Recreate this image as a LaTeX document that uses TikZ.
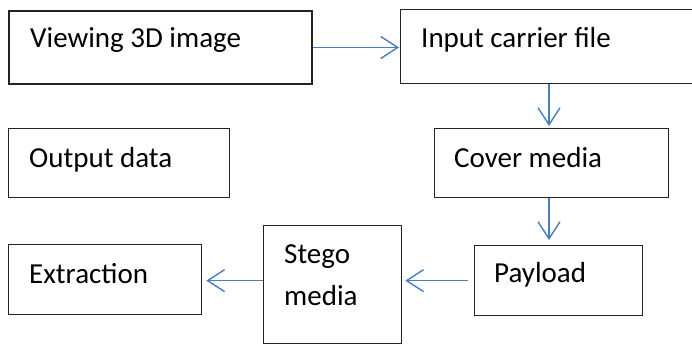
\documentclass[tikz,border=0pt]{standalone}
\usepackage{fontspec}
\setmainfont{Carlito}
\usetikzlibrary{arrows.meta}
\definecolor{arrowblue}{HTML}{4A7EBB}
\definecolor{boxline}{HTML}{222222}
\begin{document}
\begin{tikzpicture}[x=1pt,y=-1pt,
  box/.style={draw=boxline,line width=1.3pt,rectangle,inner sep=0pt,anchor=north west},
  lbl/.style={anchor=base west,inner sep=0pt,font=\fontsize{29}{42}\selectfont},
  flow/.style={draw=arrowblue,line width=1.4pt,-{Straight Barb[length=17pt,width=22pt,line width=1.4pt]}}]
\useasboundingbox (0,0) rectangle (692,345);
% boxes
\node[box,line width=2pt,minimum width=303pt,minimum height=73pt] (view) at (8,10) {};
\node[box,minimum width=296pt,minimum height=74pt] (input) at (400,9) {};
\node[box,minimum width=221pt,minimum height=69pt] (out) at (8,128) {};
\node[box,minimum width=234pt,minimum height=69pt] (cover) at (434,128) {};
\node[box,minimum width=193pt,minimum height=70pt] (extr) at (8,244) {};
\node[box,minimum width=138pt,minimum height=118pt] (stego) at (263,225) {};
\node[box,minimum width=168pt,minimum height=70pt] (pay) at (474,245) {};
% texts
\node[lbl] (tview) at (30,48) {Viewing 3D image};
\node[lbl] (tinput) at (421,48) {Input carrier file};
\node[lbl] (tout) at (29,167) {Output data};
\node[lbl] (tcover) at (454,167) {Cover media};
\node[lbl] (textr) at (29,283) {Extraction};
\node[lbl] (tstego1) at (284,263) {Stego};
\node[lbl] (tstego2) at (284,305) {media};
\node[lbl] (tpay) at (494,282) {Payload};
% connectors
\coordinate (c1) at (549,0);
\draw[flow,shorten >=1pt] (view.east) -- (input.west |- view.east);
\draw[flow,shorten >=2pt] (input.south -| c1) -- (cover.north -| c1);
\draw[flow,shorten >=5pt] (cover.south -| c1) -- (pay.north -| c1);
\draw[flow,shorten <=6pt,shorten >=3pt] (pay.west) -- (stego.east |- pay.west);
\draw[flow,shorten >=4pt] (stego.west |- pay.west) -- (extr.east |- pay.west);
\end{tikzpicture}
\end{document}
